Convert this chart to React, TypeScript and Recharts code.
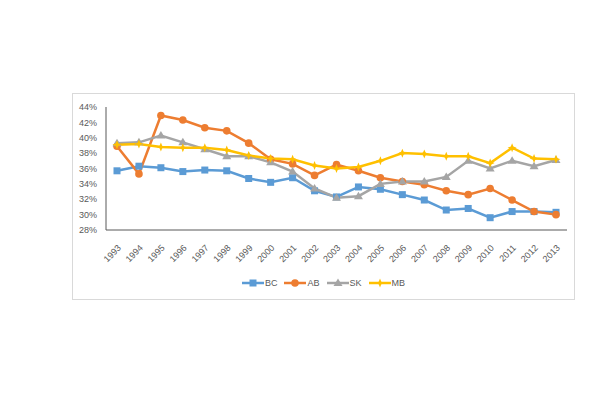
import React from "react";
import { LineChart, Line, XAxis, YAxis, Legend } from "recharts";

// years on the category axis
const years = [
  "1993", "1994", "1995", "1996", "1997", "1998", "1999", "2000", "2001", "2002", "2003",
  "2004", "2005", "2006", "2007", "2008", "2009", "2010", "2011", "2012", "2013",
];

// values in percent
const bc = [35.7, 36.3, 36.1, 35.6, 35.8, 35.7, 34.7, 34.2, 34.8, 33.1, 32.3, 33.6, 33.3, 32.6, 31.9, 30.6, 30.8, 29.6, 30.4, 30.4, 30.3];
const ab = [38.9, 35.3, 42.9, 42.3, 41.3, 40.9, 39.3, 37.2, 36.6, 35.1, 36.5, 35.7, 34.8, 34.3, 33.9, 33.1, 32.6, 33.4, 31.9, 30.4, 30.0];
const sk = [39.3, 39.4, 40.3, 39.4, 38.5, 37.6, 37.6, 36.8, 35.6, 33.4, 32.2, 32.4, 34.0, 34.3, 34.3, 34.9, 37.0, 36.0, 37.0, 36.3, 37.1];
const mb = [39.1, 39.2, 38.8, 38.7, 38.7, 38.4, 37.7, 37.3, 37.2, 36.4, 36.0, 36.2, 37.0, 38.0, 37.9, 37.6, 37.6, 36.7, 38.7, 37.3, 37.2];

const yTicks = [28, 30, 32, 34, 36, 38, 40, 42, 44];

const series = [
  { key: "BC", color: "#5B9BD5", shape: "square" },
  { key: "AB", color: "#ED7D31", shape: "circle" },
  { key: "SK", color: "#A5A5A5", shape: "triangle" },
  { key: "MB", color: "#FFC000", shape: "star" },
];

const data = years.map((y, i) => ({ year: y, BC: bc[i], AB: ab[i], SK: sk[i], MB: mb[i] }));

function markerShape(shape: string, color: string, cx: number, cy: number, k?: any) {
  if (shape === "square") {
    return <rect key={k} x={cx - 3.5} y={cy - 3.5} width={7} height={7} fill={color} />;
  }
  if (shape === "circle") {
    return <circle key={k} cx={cx} cy={cy} r={3.8} fill={color} />;
  }
  if (shape === "triangle") {
    return <polygon key={k} points={`${cx},${cy - 4.5} ${cx + 4.5},${cy + 3} ${cx - 4.5},${cy + 3}`} fill={color} />;
  }
  const d = `M${cx},${cy - 4.5} L${cx + 1.3},${cy - 1.3} L${cx + 4.5},${cy} L${cx + 1.3},${cy + 1.3} L${cx},${cy + 4.5} L${cx - 1.3},${cy + 1.3} L${cx - 4.5},${cy} L${cx - 1.3},${cy - 1.3} Z`;
  return <path key={k} d={d} fill={color} />;
}

const makeDot = (shape: string, color: string) => (props: any) =>
  markerShape(shape, color, props.cx, props.cy, `${shape}-${props.index}`);

const LegendContent = () => (
  <div style={{ display: "flex", justifyContent: "center", alignItems: "center" }}>
    {series.map((s) => (
      <div key={s.key} style={{ display: "flex", alignItems: "center", marginRight: 7 }}>
        <svg width={22} height={10}>
          <line x1={0} y1={5} x2={22} y2={5} stroke={s.color} strokeWidth={2.5} />
          {markerShape(s.shape, s.color, 11, 5)}
        </svg>
        <span style={{ fontSize: 9, color: "#595959", marginLeft: 1 }}>{s.key}</span>
      </div>
    ))}
  </div>
);

export default function App() {
  return (
    <div style={{ position: "absolute", left: 0, top: 0, width: 600, height: 400, background: "#fff", fontFamily: "'Liberation Sans', Arial, sans-serif" }}>
      <div
        style={{
          position: "absolute",
          left: 72,
          top: 93,
          width: 503,
          height: 207,
          border: "1px solid #d9d9d9",
          boxSizing: "border-box",
        }}
      />
      <div style={{ position: "absolute", left: 0, top: 0 }}>
        <LineChart width={600} height={400} data={data} margin={{ top: 107, right: 33, bottom: 100, left: 0 }}>
          <XAxis
            dataKey="year"
            interval={0}
            angle={-45}
            textAnchor="end"
            height={60}
            padding={{ left: 11, right: 11 }}
            tickLine={false}
            axisLine={{ stroke: "#595959" }}
            tick={{ fontSize: 9, fill: "#595959" }}
            tickMargin={8}
          />
          <YAxis
            domain={[28, 44]}
            ticks={yTicks}
            tickFormatter={(v) => `${v}%`}
            width={106}
            tickLine={false}
            tickSize={7}
            axisLine={{ stroke: "#595959" }}
            tick={{ fontSize: 9, fill: "#595959" }}
          />
          {series.map((s) => (
            <Line
              key={s.key}
              dataKey={s.key}
              stroke={s.color}
              strokeWidth={2.5}
              dot={makeDot(s.shape, s.color)}
              activeDot={false}
              isAnimationActive={false}
            />
          ))}
          <Legend
            content={<LegendContent />}
            wrapperStyle={{ position: "absolute", top: 278, left: 54, width: 546, bottom: "auto" }}
          />
        </LineChart>
      </div>
    </div>
  );
}
